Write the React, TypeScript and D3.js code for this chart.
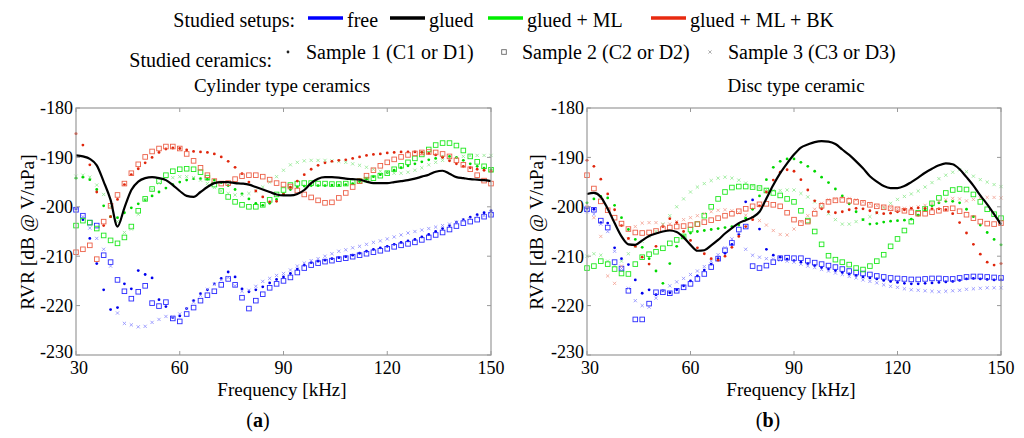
import * as d3 from "d3";
import { useEffect } from "react";

// frequency grid in kHz
const FREQ = [
  30, 32, 34, 36, 38, 40, 42, 44, 46, 48,
  50, 52, 54, 56, 58, 60, 62, 64, 66, 68,
  70, 72, 74, 76, 78, 80, 82, 84, 86, 88,
  90, 92, 94, 96, 98, 100, 102, 104, 106, 108,
  110, 112, 114, 116, 118, 120, 122, 124, 126, 128,
  130, 132, 134, 136, 138, 140, 142, 144, 146, 148,
  150,
];

// (a) cylinder type ceramics
const A_FREE_1 = [
  -200.4, -202.6, -206.4, -211.5, -216.8, -220.8, -220.4, -215.6, -216.6, -212.9,
  -213.7, -214.4, -218.8, -220.2, -222.4, -222.1, -220.6, -219, -217.6, -216.8,
  -215.6, -214.5, -213.2, -214.2, -216.6, -217.2, -216.8, -216.2, -215.4, -214.7,
  -214.2, -213.5, -212.6, -211.8, -211.3, -211, -210.8, -210.5, -210.3, -210.1,
  -209.8, -209.4, -209, -208.6, -208.3, -208, -207.6, -207.2, -206.9, -206.6,
  -206.1, -205.6, -205, -204.4, -203.8, -203.1, -202.6, -202.1, -201.6, -201.2,
  -200.8,
];
const A_FREE_2 = [
  -200.6, -201.8, -203.2, -203.8, -209.8, -211.2, -214.8, -217.1, -218.6, -217.2,
  -216, -219.5, -220.1, -219.3, -222.6, -223.2, -221.7, -220.4, -219, -217.9,
  -217.1, -215.8, -214.6, -215.8, -218.4, -220.6, -219, -217.7, -216.4, -215.6,
  -215, -214.3, -213.3, -212.4, -211.8, -211.4, -211.1, -210.9, -210.6, -210.4,
  -210.1, -209.8, -209.5, -209.2, -208.9, -208.5, -208.1, -207.8, -207.5, -207.2,
  -206.7, -206.2, -205.7, -205.2, -204.6, -203.9, -203.3, -203, -202.6, -202,
  -201.6,
];
const A_FREE_3 = [
  -200.3, -202, -204.3, -206.4, -208.6, -212, -221.5, -223.6, -223.9, -224.3,
  -224.2, -223.4, -222.8, -222.2, -222.3, -221.7, -220.6, -219.3, -217.9, -216.7,
  -215.7, -214.8, -214.3, -216, -217.1, -216.9, -216.1, -215.1, -214.5, -213.9,
  -213.5, -212.8, -212, -211.4, -210.9, -210.5, -210, -209.5, -209, -208.7,
  -208.3, -208, -207.6, -207.2, -206.9, -206.5, -206.1, -205.7, -205.3, -205,
  -204.7, -204.4, -204.1, -203.8, -203.5, -203.1, -202.8, -202.4, -202, -201.8,
  -201.6,
];
const A_GLUED = [
  -189.6, -189.8, -190.3, -191.6, -194.9, -198.6, -204, -200.2, -196.6, -194.9,
  -194.2, -194, -194.2, -194.6, -195.6, -196.8, -197.8, -198, -197, -196,
  -195.2, -195, -195, -195.2, -195.3, -195.5, -196, -196.5, -197, -197.5,
  -197.7, -197.7, -197.4, -196.6, -195.2, -194.3, -194, -194, -194.1, -194.3,
  -194.4, -194.5, -194.9, -195.2, -195.2, -195.2, -195, -194.8, -194.6, -194.3,
  -193.9, -193.5, -192.9, -192.7, -193.3, -194, -194.2, -194.4, -194.5, -194.6,
  -194.8,
];
const A_ML_1 = [
  -194.2, -194, -194.5, -196.5, -199.8, -202, -202.2, -201.2, -200.2, -199.4,
  -198.6, -197.8, -197, -196.2, -195.5, -195, -194.6, -194.3, -194.3, -194.4,
  -194.6, -195.1, -195.7, -196.5, -197.4, -198.4, -199.3, -199.7, -199.3, -198.5,
  -197.4, -196.5, -196, -195.8, -195.7, -195.7, -195.7, -195.6, -195.6, -195.5,
  -195.3, -194.9, -194.4, -193.9, -193.5, -193.1, -192.6, -192.1, -191.7, -191.3,
  -190.9, -190.5, -190.2, -189.9, -189.8, -190, -190.6, -191.3, -191.8, -192.2,
  -192.5,
];
const A_ML_2 = [
  -203.8, -202.8, -203.2, -204.4, -205.8, -206.8, -207.4, -206.2, -204, -200.8,
  -198.4, -196.4, -194.8, -193.6, -192.8, -192.4, -192.3, -192.4, -193, -194.1,
  -195.5, -196.8, -198, -199, -199.6, -200, -200, -199.6, -198.6, -197.5,
  -196.6, -195.6, -195.3, -195.2, -195.2, -195.3, -195.3, -195.4, -195.4, -195.3,
  -195, -194.8, -194.5, -194.2, -193.7, -193.2, -192.4, -191.7, -191, -190.2,
  -189.4, -188.4, -187.5, -187.1, -187.1, -187.6, -188.6, -189.8, -190.9, -191.8,
  -192.5,
];
const A_ML_3 = [
  -193.8, -193.6, -194, -195.6, -197.5, -200, -203, -205.2, -204.5, -201.5,
  -198.5, -196.5, -195.2, -194.5, -194.1, -193.9, -193.9, -194.1, -194.6, -195.3,
  -196.1, -196.8, -197.3, -197.6, -197.6, -197.3, -196.8, -196, -195, -193.9,
  -192.6, -191.5, -191, -190.7, -190.6, -190.6, -190.6, -190.7, -190.8, -191,
  -191.3, -191.6, -192, -192.4, -192.8, -193.1, -193.2, -193.2, -193, -192.6,
  -192.1, -191.5, -191, -190.6, -190.3, -190, -189.8, -189.7, -189.6, -189.6,
  -189.6,
];
const A_BK_1 = [
  -185.2, -187.5, -191.5, -197, -203.8, -202, -198.5, -195.5, -193.5, -192.3,
  -191.1, -190, -189, -188.3, -188.1, -188.2, -188.5, -188.8, -188.9, -189,
  -189.3, -189.9, -190.8, -192, -193.3, -195, -196.8, -198, -199, -198.9,
  -197.5, -196, -194.8, -193.5, -192.4, -191.6, -191.1, -190.8, -190.6, -190.5,
  -190.2, -189.9, -189.6, -189.4, -189.3, -189.1, -189, -188.9, -188.9, -188.9,
  -189, -189.2, -189.5, -190, -190.7, -191.3, -191.8, -192.1, -192.4, -192.6,
  -192.8,
];
const A_BK_2 = [
  -209.2, -208.6, -207.8, -210.6, -203, -199.8, -197.6, -195.3, -193.2, -191.4,
  -189.9, -188.8, -188.2, -187.8, -187.8, -188.2, -189.3, -190.7, -192.1, -193.6,
  -194.8, -195.3, -195.2, -194.4, -193.8, -193.6, -193.6, -193.9, -194.5, -195.2,
  -195.5, -195.9, -196.7, -197.5, -198.1, -198.7, -199.2, -199.1, -198.2, -197.2,
  -196, -194.8, -193.7, -192.6, -191.7, -191, -190.4, -189.9, -189.5, -189.2,
  -189, -188.9, -189, -189.3, -189.8, -190.6, -191.5, -192.4, -193.6, -194.7,
  -195.3,
];

// (b) disc type ceramic
const B_FREE_1 = [
  -200.3, -200.5, -203.2, -203.3, -208.3, -210.5, -211.7, -214.8, -217.5, -216.8,
  -217.8, -217, -217.4, -216.8, -216, -215, -214, -212.8, -211.6, -210.5,
  -209.4, -207.6, -205.6, -199, -198.6, -204.5, -208.6, -209.8, -210.2, -210.6,
  -210.9, -211.2, -211.5, -211.9, -212.3, -212.6, -212.9, -213.3, -213.6, -213.9,
  -214.2, -214.4, -214.6, -214.9, -215.1, -215.3, -215.5, -215.6, -215.6, -215.5,
  -215.4, -215.3, -215.2, -215.1, -214.9, -214.6, -214.5, -214.6, -214.7, -214.8,
  -214.8,
];
const B_FREE_2 = [
  -200.5, -200.6, -202.8, -204.2, -211.2, -212.5, -217, -222.8, -222.8, -219.6,
  -217.3, -217.3, -217.5, -217, -216.3, -215.6, -214.6, -213.6, -212.2, -210.5,
  -208.8, -207.3, -204.6, -204, -212, -212.4, -211.9, -211.2, -210.4, -210.3,
  -210.4, -210.4, -210.9, -211.3, -211.6, -211.9, -212.2, -212.6, -213, -213.3,
  -213.5, -213.7, -214, -214.2, -214.4, -214.5, -214.6, -214.7, -214.7, -214.6,
  -214.5, -214.5, -214.6, -214.6, -214.4, -214.2, -214.1, -214.1, -214.2, -214.3,
  -214.4,
];
const B_FREE_3 = [
  -201, -201.5, -203.5, -205, -209, -212.5, -216.5, -219, -220, -220.3,
  -218.5, -217, -216, -215.2, -214.5, -213.7, -213, -212.1, -211, -209.7,
  -208.3, -206.5, -205.3, -208.6, -209.8, -210.2, -210.5, -210.6, -210.8, -211,
  -211.2, -211.6, -212, -212.3, -212.7, -213, -213.4, -213.7, -214.1, -214.4,
  -214.8, -215.1, -215.4, -215.8, -216.1, -216.3, -216.6, -216.8, -216.9, -217,
  -217.1, -217.2, -217.1, -217, -216.9, -216.7, -216.6, -216.5, -216.4, -216.4,
  -216.4,
];
const B_GLUED = [
  -197.4, -197.2, -198, -200.4, -203.3, -206, -207.6, -207.7, -206.8, -205.9,
  -205.4, -205, -204.8, -205.1, -206.2, -207.7, -208.9, -208.8, -207.8, -206.7,
  -205.4, -204.3, -203.3, -202.7, -202.1, -201, -198.3, -195.6, -193.2, -191.2,
  -189.4, -188, -187.4, -186.9, -186.7, -186.8, -187.3, -188.4, -189.5, -190.8,
  -192.2, -193.8, -194.9, -195.8, -196.2, -196.2, -195.8, -195, -194.1, -193.1,
  -192.3, -191.6, -191.2, -191.4, -192.4, -194, -195.7, -197.7, -199.5, -201.5,
  -203.6,
];
const B_ML_1 = [
  -199.2, -198.4, -197.9, -198.2, -199.7, -202.2, -204.6, -206.6, -208.2, -210.5,
  -213, -215.5, -211.5, -208, -206, -205.3, -205, -204.8, -204.6, -204.4,
  -204.2, -204, -203.7, -202.3, -200.5, -197.8, -194.5, -192, -190.8, -190.3,
  -190.3, -191, -191.8, -192.8, -194, -195.1, -196.4, -197.8, -199.4, -201,
  -202.6, -203.5, -203.4, -203.1, -202.9, -202.8, -202.7, -202.5, -201.7, -200.7,
  -199.8, -199.2, -198.9, -198.9, -199.2, -200.5, -202, -203.7, -205.2, -206.6,
  -207.7,
];
const B_ML_2 = [
  -212.4, -212, -211, -211.6, -212.6, -213.5, -213.6, -211.6, -210.2, -209.6,
  -209.1, -208.4, -207.4, -206.7, -206, -204.6, -203.5, -201.8, -200, -198.4,
  -197, -196.1, -195.9, -195.9, -196, -196.2, -196.7, -197.2, -197.7, -198.4,
  -199, -200.8, -202.8, -205, -207.6, -209.9, -210.7, -211.2, -211.7, -212.4,
  -212.7, -212, -211, -209.7, -208, -206.5, -204.8, -203, -201.2, -200.4,
  -199.3, -198.2, -197.2, -196.6, -196.4, -196.5, -197.5, -199, -200.5, -201.5,
  -202.3,
];
const B_ML_3 = [
  -210, -209.5, -209.8, -211, -212, -211, -209.5, -208, -207, -206,
  -205, -203.5, -201.8, -200, -198.4, -197, -196, -195.3, -194.7, -194.2,
  -194, -194.2, -194.6, -195.2, -195.8, -196.2, -196.5, -196.7, -196.7, -196.6,
  -196.6, -197.3, -198, -199, -200, -201.4, -202.6, -203.5, -203.5, -203,
  -202.6, -202, -201.2, -200.2, -199.3, -198.5, -197.9, -197.4, -196.8, -196,
  -195.1, -194.3, -193.6, -193, -192.5, -192.9, -193.8, -194.5, -195, -195.5,
  -195.9,
];
const B_BK_1 = [
  -190.6, -191.8, -194.4, -197.4, -200.6, -203.8, -206.4, -208, -210.2, -211.6,
  -208, -204, -202.4, -203.2, -205, -206.8, -208.3, -209.5, -210.5, -210.8,
  -210, -208.2, -206, -204, -202.6, -199.8, -197, -194.6, -193, -192.5,
  -192.8, -194.5, -196.6, -198.8, -200.4, -201, -201.2, -201, -200.6, -200.3,
  -200.4, -200.8, -201.2, -201.4, -201.3, -201, -200.6, -200.3, -200.2, -200.3,
  -200.4, -200.4, -200.6, -201.4, -203.2, -205.3, -207.6, -209.6, -211.2, -211.8,
  -211.5,
];
const B_BK_2 = [
  -193.6, -196.3, -198.9, -200.7, -202.2, -203.4, -204.5, -205.2, -205.3, -205.2,
  -204.9, -204.5, -204.2, -204, -203.9, -203.7, -203.5, -203.1, -202.7, -202.3,
  -201.8, -201.4, -200.9, -200.4, -199.9, -199.5, -199.4, -199.6, -199.9, -201.2,
  -202.6, -203.3, -203, -201.4, -199.8, -199, -198.7, -198.6, -198.8, -199,
  -199.2, -199.6, -199.9, -200.1, -200.3, -200.5, -200.8, -201.1, -201.4, -201.4,
  -201.1, -200.8, -200.4, -200.3, -200.9, -201.6, -202.3, -203, -203.4, -203.5,
  -203.3,
];
const B_BK_3 = [
  -200, -202.2, -206, -214, -215.5, -212, -206.5, -204, -203.3, -203.2,
  -203.2, -203.6, -203.5, -203, -202.6, -202.2, -201.8, -201.4, -201, -200.7,
  -200.6, -200.8, -201.2, -201.7, -202.2, -202.8, -203.7, -204.8, -205.6, -205.7,
  -204.5, -203, -201.8, -200.5, -199.3, -198.6, -198.4, -198.2, -198.3, -198.6,
  -199, -199.4, -199.8, -200, -200.3, -200.4, -200.3, -200.2, -200, -199.7,
  -199.3, -198.9, -198.6, -198.3, -198.4, -198.8, -198.5, -198.2, -198.1, -198.1,
  -198.2,
];

const X_TICKS = [30, 60, 90, 120, 150];
const Y_TICKS = [-180, -190, -200, -210, -220, -230];
const SETUPS = ["free", "glued", "glued + ML", "glued + ML + BK"];
const SAMPLES = ["Sample 1 (C1 or D1)", "Sample 2 (C2 or D2)", "Sample 3 (C3 or D3)"];

const FONT = '"Liberation Serif", "Times New Roman", Times, serif';
const AXIS = "#9a9a9a";

type Marker = "dot" | "square" | "cross";
type Series = { values: number[]; color: string; marker: Marker };

const BLUE = ["#0000ee", "#2a2aff", "#8a8aff"];
const GREEN = ["#00d800", "#1ee81e", "#8fe88f"];
const RED = ["#e0260c", "#ec6048", "#f2a090"];
const MARKERS: Marker[] = ["dot", "square", "cross"];

const mk = (vals: number[][], colors: string[], markers: Marker[] = MARKERS): Series[] =>
  vals.map((v, i) => ({ values: v, color: colors[i], marker: markers[i] }));

const A_SERIES: Series[] = [
  ...mk([A_FREE_1, A_FREE_2, A_FREE_3], BLUE),
  ...mk([A_ML_1, A_ML_2, A_ML_3], GREEN),
  ...mk([A_BK_1, A_BK_2], RED),
];
const B_SERIES: Series[] = [
  ...mk([B_FREE_1, B_FREE_2, B_FREE_3], BLUE),
  ...mk([B_ML_3, B_ML_1, B_ML_2], [GREEN[2], GREEN[0], GREEN[1]], ["cross", "dot", "square"]),
  ...mk([B_BK_3, B_BK_1, B_BK_2], [RED[2], RED[0], RED[1]], ["cross", "dot", "square"]),
];

function Symbol({ x, y, color, marker }: { x: number; y: number; color: string; marker: Marker }) {
  if (marker === "dot") return <circle cx={x} cy={y} r={1.4} fill={color} />;
  if (marker === "square")
    return <rect x={x - 2.3} y={y - 2.3} width={4.6} height={4.6} fill="none" stroke={color} strokeWidth={0.9} />;
  const s = 1.6;
  return (
    <path
      d={`M${x - s},${y - s}L${x + s},${y + s}M${x - s},${y + s}L${x + s},${y - s}`}
      stroke={color}
      strokeWidth={0.8}
    />
  );
}

function Panel({
  x0, x1, series, glued, title, titleX, tag, tagX, xLabelX, yLabelX,
}: {
  x0: number; x1: number; series: Series[]; glued: number[]; title: string;
  titleX: number; tag: string; tagX: number; xLabelX: number; yLabelX: number;
}) {
  const x = d3.scaleLinear().domain([30, 150]).range([x0, x1]);
  const y = d3.scaleLinear().domain([-230, -180]).range([355, 108]);
  const line = d3
    .line<number>()
    .x((_, i) => x(FREQ[i]))
    .y((d) => y(d))
    .curve(d3.curveMonotoneX);
  const [top, bottom] = [y(-180), y(-230)];
  return (
    <g style={{ fontFamily: FONT }}>
      <text x={titleX} y={92} textAnchor="middle" fontSize={19}>{title}</text>
      {series.map((s, si) => (
        <g key={si}>
          {s.values.map((v, i) => (
            <Symbol key={i} x={x(FREQ[i])} y={y(v)} color={s.color} marker={s.marker} />
          ))}
        </g>
      ))}
      <path d={line(glued) ?? ""} fill="none" stroke="#000" strokeWidth={2.2} />
      <rect x={x0} y={top} width={x1 - x0} height={bottom - top} fill="none" stroke={AXIS} strokeWidth={1.2} />
      {X_TICKS.map((t) => (
        <g key={t}>
          <line x1={x(t)} x2={x(t)} y1={bottom} y2={bottom - 4} stroke={AXIS} />
          <line x1={x(t)} x2={x(t)} y1={top} y2={top + 4} stroke={AXIS} />
          <text x={x(t) + (t === 30 ? 3 : 0)} y={374} textAnchor="middle" fontSize={18}>{t}</text>
        </g>
      ))}
      {Y_TICKS.map((t) => (
        <g key={t}>
          <line x1={x0} x2={x0 + 4} y1={y(t)} y2={y(t)} stroke={AXIS} />
          <line x1={x1} x2={x1 - 4} y1={y(t)} y2={y(t)} stroke={AXIS} />
          <text x={x0 - 3} y={y(t) - (t === -230 ? 3 : 0)} dy="0.35em" textAnchor="end" fontSize={18}>{t}</text>
        </g>
      ))}
      <text x={xLabelX} y={396} textAnchor="middle" fontSize={19}>Frequency [kHz]</text>
      <text
        transform={`translate(${yLabelX},232) rotate(-90)`}
        textAnchor="middle"
        fontSize={19.5}
      >
        RVR [dB @ V/uPa]
      </text>
      <text x={tagX} y={427} textAnchor="middle" fontSize={20}>
        (<tspan fontWeight="bold">{tag}</tspan>)
      </text>
    </g>
  );
}

function Legend() {
  const lineColors = ["#0000ff", "#000000", "#00ee00", "#e82a10"];
  const lineX = [308, 390, 488, 651];
  const sampleX = [288, 504, 710];
  const sampleColors = ["#222", "#666", "#999"];
  return (
    <g style={{ fontFamily: FONT }} fontSize={20}>
      <text x={295} y={27} textAnchor="end">Studied setups:</text>
      {SETUPS.map((s, i) => (
        <g key={s}>
          <line x1={lineX[i]} x2={lineX[i] + 35} y1={18} y2={18} stroke={lineColors[i]} strokeWidth={3.5} />
          <text x={lineX[i] + 39} y={27}>{s}</text>
        </g>
      ))}
      <text x={272} y={67} textAnchor="end">Studied ceramics:</text>
      {SAMPLES.map((s, i) => (
        <g key={s}>
          <Symbol x={sampleX[i]} y={52} color={sampleColors[i]} marker={MARKERS[i]} />
          <text x={sampleX[i] + 18} y={59}>{s}</text>
        </g>
      ))}
    </g>
  );
}

export default function App() {
  useEffect(() => {
    document.body.style.margin = "0";
  }, []);
  return (
    <svg width={1024} height={438} viewBox="0 0 1024 438" style={{ display: "block", background: "#fff" }}>
      <Legend />
      <Panel
        x0={76} x1={491} series={A_SERIES} glued={A_GLUED}
        title="Cylinder type ceramics" titleX={282} tag="a" tagX={258}
        xLabelX={282} yLabelX={34}
      />
      <Panel
        x0={587} x1={1001} series={B_SERIES} glued={B_GLUED}
        title="Disc type ceramic" titleX={796} tag="b" tagX={768}
        xLabelX={791} yLabelX={543}
      />
    </svg>
  );
}
